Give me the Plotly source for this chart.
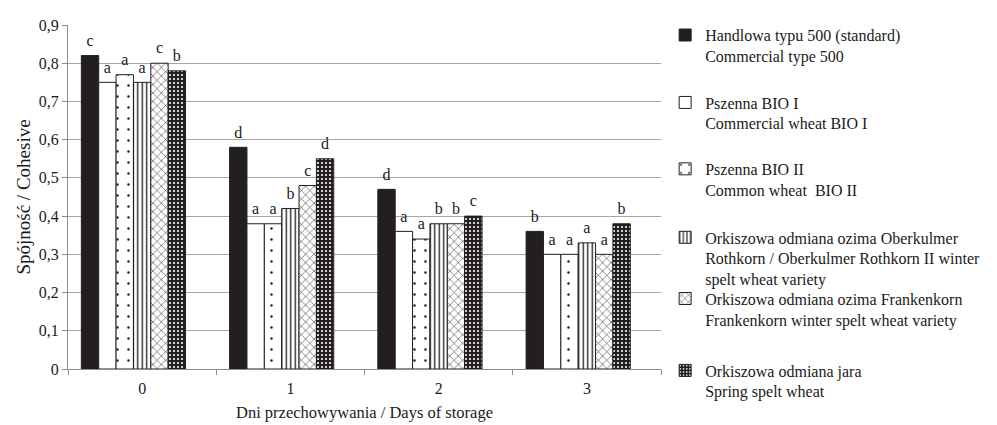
import plotly.graph_objects as go

days = ["0", "1", "2", "3"]
series_names = [
    "Handlowa typu 500 (standard)<br>Commercial type 500",
    "Pszenna BIO I<br>Commercial wheat BIO I",
    "Pszenna BIO II<br>Common wheat  BIO II",
    "Orkiszowa odmiana ozima Oberkulmer<br>Rothkorn / Oberkulmer Rothkorn II winter<br>spelt wheat variety",
    "Orkiszowa odmiana ozima Frankenkorn<br>Frankenkorn winter spelt wheat variety",
    "Orkiszowa odmiana jara<br>Spring spelt wheat",
]
handlowa = [0.82, 0.58, 0.47, 0.36]
bio1 = [0.75, 0.38, 0.36, 0.30]
bio2 = [0.77, 0.38, 0.34, 0.30]
oberkulmer = [0.75, 0.42, 0.38, 0.33]
frankenkorn = [0.80, 0.48, 0.38, 0.30]
jara = [0.78, 0.55, 0.40, 0.38]
values = [handlowa, bio1, bio2, oberkulmer, frankenkorn, jara]

letters = [
    ["c", "d", "d", "b"],
    ["a", "a", "a", "a"],
    ["a", "a", "a", "a"],
    ["a", "b", "b", "a"],
    ["c", "c", "b", "a"],
    ["b", "d", "c", "b"],
]

FONT = "Liberation Serif"
BLACK = "#231f20"
TXT = "#1a1a1a"
LABEL_LIFT = 0.036  # letter placed this far above the bar top (axis units)

patterns = [
    dict(shape=""),
    dict(shape=""),
    dict(shape=".", bgcolor="white", fgcolor=BLACK, size=11, solidity=0.04, fillmode="replace"),
    dict(shape="|", bgcolor="white", fgcolor=BLACK, size=4.5, solidity=0.3, fillmode="replace"),
    dict(shape="x", bgcolor="white", fgcolor="#333333", size=6, solidity=0.18, fillmode="replace"),
    dict(shape=".", bgcolor=BLACK, fgcolor="white", size=4, solidity=0.22, fillmode="replace"),
]
colors = [BLACK, "white", "white", "white", "white", BLACK]

# legend slot tops (paper y) for each series
legend_y = [1.02, 0.824, 0.631, 0.432, 0.254, 0.045]

fig = go.Figure()
for i in range(6):
    lg = "legend" if i == 0 else f"legend{i+1}"
    fig.add_trace(go.Bar(
        x=days, y=values[i], name=series_names[i], offsetgroup=str(i),
        marker=dict(color=colors[i], line=dict(color=BLACK, width=1), pattern=patterns[i]),
        legend=lg,
    ))
# empty trailing slot (Excel-style empty series position)
fig.add_trace(go.Bar(x=days, y=[None] * 4, offsetgroup="6", showlegend=False, hoverinfo="skip"))

for i in range(6):
    fig.add_trace(go.Scatter(
        x=days, y=[v + LABEL_LIFT for v in values[i]], mode="text", text=letters[i],
        textposition="middle center", offsetgroup=str(i), showlegend=False,
        textfont=dict(family=FONT, size=16, color=TXT), hoverinfo="skip", cliponaxis=False,
    ))
fig.add_trace(go.Scatter(x=days, y=[None] * 4, mode="text", offsetgroup="6",
                         showlegend=False, hoverinfo="skip"))

layout_legends = {}
for i in range(6):
    key = "legend" if i == 0 else f"legend{i+1}"
    layout_legends[key] = dict(
        x=1.007, xanchor="left", y=legend_y[i], yanchor="top",
        font=dict(family=FONT, size=16, color=TXT),
        bgcolor="rgba(0,0,0,0)", valign="top", itemwidth=30,
    )

fig.update_layout(
    width=997, height=425,
    margin=dict(l=60, r=344, t=10, b=64),
    paper_bgcolor="white", plot_bgcolor="white",
    barmode="group", bargap=0.18, bargroupgap=0,
    scattermode="group", scattergap=0.18,
    separators=", ",
    font=dict(family=FONT, size=16, color=TXT),
    xaxis=dict(
        type="category", tickson="boundaries", ticks="outside", ticklen=5,
        ticklabelstandoff=5,
        tickcolor="#8c8c8c", showline=True, linecolor="#8c8c8c", linewidth=1,
        showgrid=False, tickfont=dict(family=FONT, size=16, color=TXT),
        title=dict(text="Dni przechowywania / Days of storage", font=dict(family=FONT, size=16.5), standoff=10),
    ),
    yaxis=dict(
        range=[0, 0.9], dtick=0.1, tick0=0, ticks="outside", ticklen=5,
        tickcolor="#8c8c8c", showline=True, linecolor="#8c8c8c", linewidth=1,
        showgrid=True, gridcolor="#a6a6a6", gridwidth=1, zeroline=False,
        tickfont=dict(family=FONT, size=16, color=TXT),
        title=dict(text="Spójność / Cohesive", font=dict(family=FONT, size=19), standoff=3),
    ),
    **layout_legends,
)

fig.write_html("out.html")
